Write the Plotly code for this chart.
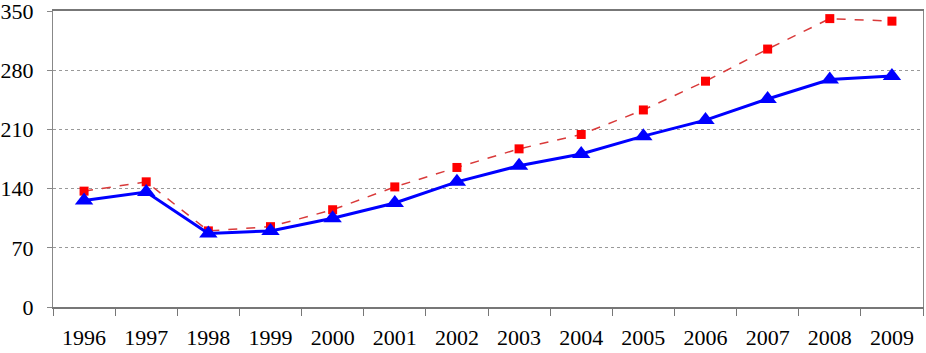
import plotly.graph_objects as go

years = [str(y) for y in range(1996, 2010)]
red_values = [137, 148, 90, 95, 115, 142, 165, 187, 204, 233, 267, 305, 341, 338]
blue_values = [126, 136, 87, 90, 105, 123, 148, 167, 181, 202, 221, 246, 269, 273]
y_ticks = [0, 70, 140, 210, 280, 350]

fig = go.Figure()

fig.add_trace(go.Scatter(x=years, y=red_values, mode='lines+markers',
                         line=dict(color='#d93a3a', width=1.5, dash='dash'),
                         marker=dict(symbol='square', size=9, color='#ff0000'),
                         showlegend=False))

fig.add_trace(go.Scatter(x=years, y=blue_values, mode='lines+markers',
                         line=dict(color='#0000ff', width=3),
                         marker=dict(symbol='triangle-up', size=16, color='#0000ff'),
                         showlegend=False))

fig.update_layout(width=926, height=353,
                  margin=dict(l=53, r=3, t=11, b=46, autoexpand=False),
                  paper_bgcolor='white', plot_bgcolor='white',
                  font=dict(family='Liberation Serif, Times New Roman, serif', size=22, color='black'),
                  xaxis=dict(type='category', showgrid=False, zeroline=False,
                             showline=True, linecolor='#777777', linewidth=1.5,
                             mirror=True, ticks='outside', ticklen=7,
                             tickcolor='#777777', tickson='boundaries',
                             range=[-0.5, len(years) - 0.5], ticklabelstandoff=10,
                             ticklabeloverflow='allow', automargin=False),
                  yaxis=dict(range=[0, 350], tickvals=y_ticks, showgrid=True,
                             gridcolor='#999999', griddash='dot', gridwidth=1,
                             zeroline=False, showline=True, linecolor='#888888',
                             linewidth=1, mirror=True, ticks='outside', ticklen=5,
                             tickcolor='#888888', ticklabelstandoff=9,
                             ticklabeloverflow='allow', automargin=False))

# drop the default page margin so the chart sits at the window's corner
fig.write_html("out.html", config={'displayModeBar': False},
               post_script="document.body.style.margin='0';")
